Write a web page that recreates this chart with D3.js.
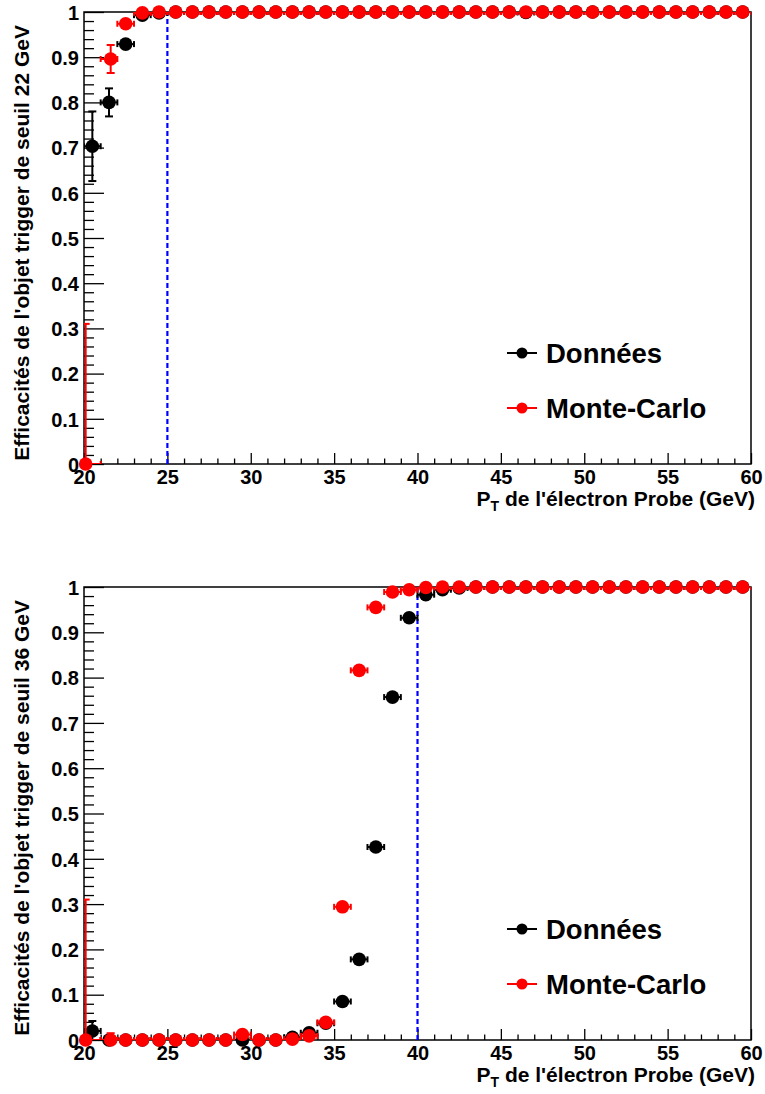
<!DOCTYPE html>
<html><head><meta charset="utf-8">
<script src="https://cdn.jsdelivr.net/npm/d3@7"></script>
<style>body{margin:0;background:#fff}svg{display:block}text{font-family:"Liberation Sans",Arial,sans-serif;font-weight:bold}</style>
</head><body>
<script>
// ---------- data ----------
const xTicks = [20, 25, 30, 35, 40, 45, 50, 55, 60];
const yTicks = [0, 0.1, 0.2, 0.3, 0.4, 0.5, 0.6, 0.7, 0.8, 0.9, 1];
const seriesNames = ["Données", "Monte-Carlo"];

// Données: bin centres (1 GeV bins)
const dataX = [20.5,21.5,22.5,23.5,24.5,25.5,26.5,27.5,28.5,29.5,30.5,31.5,32.5,33.5,34.5,35.5,36.5,37.5,38.5,39.5,
               40.5,41.5,42.5,43.5,44.5,45.5,46.5,47.5,48.5,49.5,50.5,51.5,52.5,53.5,54.5,55.5,56.5,57.5,58.5,59.5];
// Monte-Carlo points
const mcX   = [20.1,21.6,22.5,23.5,24.5,25.5,26.5,27.5,28.5,29.5,30.5,31.5,32.5,33.5,34.5,35.5,36.5,37.5,38.5,39.5,
               40.5,41.5,42.5,43.5,44.5,45.5,46.5,47.5,48.5,49.5,50.5,51.5,52.5,53.5,54.5,55.5,56.5,57.5,58.5,59.5];

// Panel 1: seuil 22 GeV
const data22    = [0.703,0.800,0.929,0.993,0.998,1,1,1,1,1,1,1,1,1,1,1,1,1,1,1,1,1,1,1,1,1,0.999,1,1,1,1,1,1,1,1,1,1,1,1,1];
const data22Err = [0.077,0.031,0.008,0.004,0.002,0,0,0,0,0,0,0,0,0,0,0,0,0,0,0,0,0,0,0,0,0,0,0,0,0,0,0,0,0,0,0,0,0,0,0];
const mc22      = [0,0.896,0.974,0.998,1,1,1,1,1,1,1,1,1,1,1,1,1,1,1,1,1,1,1,1,1,1,1,1,1,1,1,1,1,1,1,1,1,1,1,1];
const mc22Err   = [0.31,0.031,0.006,0.002,0,0,0,0,0,0,0,0,0,0,0,0,0,0,0,0,0,0,0,0,0,0,0,0,0,0,0,0,0,0,0,0,0,0,0,0];

// Panel 2: seuil 36 GeV
const data36    = [0.020,0,0,0,0,0,0,0,0,0,0,0,0.006,0.016,0.037,0.085,0.178,0.426,0.757,0.932,
                   0.983,0.994,0.998,1,1,1,1,1,1,1,1,1,1,1,1,1,1,1,1,1];
const data36Err = [0.022,0,0,0,0,0,0,0,0,0,0,0,0.003,0.005,0.004,0.005,0.006,0.007,0.006,0.004,
                   0.003,0.002,0.001,0,0,0,0,0,0,0,0,0,0,0,0,0,0,0,0,0];
const mc36      = [0,0,0,0,0,0,0,0,0,0.012,0,0,0.002,0.009,0.039,0.294,0.816,0.955,0.989,0.994,
                   0.999,1,1,1,1,1,1,1,1,1,1,1,1,1,1,1,1,1,1,1];
const mc36Err   = [0.31,0.015,0,0,0,0,0,0,0,0.006,0,0,0.002,0.004,0.004,0.005,0.004,0.003,0.002,0.001,
                   0.001,0,0,0,0,0,0,0,0,0,0,0,0,0,0,0,0,0,0,0];

const thresholds = [25, 40];
const yTitles = ["Efficacités de l'objet trigger de seuil 22 GeV", "Efficacités de l'objet trigger de seuil 36 GeV"];

// ---------- drawing ----------
const W = 765, H = 1094;
const svg = d3.select("body").append("svg").attr("width", W).attr("height", H);
const L = 84, R = 751;
const panels = [
  {top: 12, bottom: 464, d: data22, de: data22Err, m: mc22, me: mc22Err, thr: thresholds[0], title: yTitles[0]},
  {top: 587, bottom: 1040, d: data36, de: data36Err, m: mc36, me: mc36Err, thr: thresholds[1], title: yTitles[1]}
];
const colors = ["#000000", "#ff0000"];
const FONT = '"Liberation Sans",Arial,sans-serif';

panels.forEach((p, i) => {
  const x = d3.scaleLinear().domain([20, 60]).range([L, R]);
  const y = d3.scaleLinear().domain([0, 1]).range([p.bottom, p.top]);
  const g = svg.append("g");
  const clipId = "clip" + i;
  g.append("clipPath").attr("id", clipId).append("rect")
    .attr("x", L).attr("y", p.top).attr("width", R - L).attr("height", p.bottom - p.top);

  // minor ticks
  const minorX = d3.range(20, 61, 1).filter(v => v % 5 !== 0);
  const minorY = d3.range(0, 51, 1).filter(v => v % 5 !== 0).map(v => v / 50);
  const gxm = g.append("g").attr("transform", `translate(0,${p.bottom})`)
    .call(d3.axisBottom(x).tickValues(minorX).tickSize(-5.5).tickFormat(""));
  const gym = g.append("g").attr("transform", `translate(${L},0)`)
    .call(d3.axisLeft(y).tickValues(minorY).tickSize(-10).tickFormat(""));
  // major ticks
  const gx = g.append("g").attr("transform", `translate(0,${p.bottom})`)
    .call(d3.axisBottom(x).tickValues(xTicks).tickSize(-11).tickPadding(6).tickFormat(d3.format("~g")));
  const gy = g.append("g").attr("transform", `translate(${L},0)`)
    .call(d3.axisLeft(y).tickValues(yTicks).tickSize(-20).tickPadding(5).tickFormat(d3.format("~g")));
  [gxm, gym, gx, gy].forEach(a => {
    a.select(".domain").remove();
    a.selectAll("line").attr("stroke", "#000").attr("stroke-width", 1.3);
    a.selectAll("text").attr("font-size", 20).attr("fill", "#000")
      .style("font-family", FONT).style("font-weight", "bold");
  });
  gy.selectAll("text").attr("dy", "0.36em");

  // frame
  g.append("rect").attr("x", L).attr("y", p.top).attr("width", R - L).attr("height", p.bottom - p.top)
    .attr("fill", "none").attr("stroke", "#000").attr("stroke-width", 1.5);

  // threshold line
  g.append("line").attr("x1", x(p.thr)).attr("x2", x(p.thr)).attr("y1", y(0)).attr("y2", y(1))
    .attr("stroke", "#0000ff").attr("stroke-width", 2.2).attr("stroke-dasharray", "5,3");

  // series
  const series = [
    {xs: dataX, v: p.d, e: p.de, c: colors[0]},
    {xs: mcX, v: p.m, e: p.me, c: colors[1]}
  ];
  series.forEach(s => {
    const pts = s.xs.map((xv, k) => ({x: xv, v: s.v[k], e: s.e[k]}));
    const eg = g.append("g").attr("clip-path", `url(#${clipId})`)
      .attr("stroke", s.c).attr("stroke-width", 2);
    // horizontal bars (bin edges)
    eg.selectAll(".h").data(pts).join("line")
      .attr("x1", d => x(Math.floor(d.x))).attr("x2", d => x(Math.floor(d.x) + 1))
      .attr("y1", d => y(d.v)).attr("y2", d => y(d.v));
    eg.selectAll(".hc").data(pts.flatMap(d => [{x: Math.floor(d.x), v: d.v}, {x: Math.floor(d.x) + 1, v: d.v}])).join("line")
      .attr("x1", d => x(d.x)).attr("x2", d => x(d.x))
      .attr("y1", d => y(d.v) - 3).attr("y2", d => y(d.v) + 3);
    // vertical error bars
    const ve = pts.filter(d => d.e > 0);
    eg.selectAll(".v").data(ve).join("line")
      .attr("x1", d => x(d.x)).attr("x2", d => x(d.x))
      .attr("y1", d => y(d.v - d.e)).attr("y2", d => y(Math.min(1, d.v + d.e)));
    eg.selectAll(".vc").data(ve.flatMap(d => [d.v - d.e, Math.min(1, d.v + d.e)].map(t => ({x: d.x, t})))).join("line")
      .attr("x1", d => x(d.x) - 4).attr("x2", d => x(d.x) + 4)
      .attr("y1", d => y(d.t)).attr("y2", d => y(d.t));
    g.append("g").selectAll("circle").data(pts).join("circle")
      .attr("cx", d => x(d.x)).attr("cy", d => y(d.v)).attr("r", 6.8).attr("fill", s.c);
  });

  // legend
  const ly = [p.bottom - 111, p.bottom - 56];
  seriesNames.forEach((name, k) => {
    g.append("line").attr("x1", 507).attr("x2", 537).attr("y1", ly[k]).attr("y2", ly[k])
      .attr("stroke", colors[k]).attr("stroke-width", 2);
    g.append("circle").attr("cx", 522).attr("cy", ly[k]).attr("r", 5.5).attr("fill", colors[k]);
    g.append("text").attr("x", 546).attr("y", ly[k]).attr("dy", "0.36em")
      .attr("font-size", 27.5).text(name);
  });

  // axis titles
  const xt = g.append("text").attr("x", 755).attr("y", p.bottom + 42).attr("text-anchor", "end")
    .attr("font-size", 21);
  xt.append("tspan").text("P");
  xt.append("tspan").attr("font-size", 14).attr("dy", 5).text("T");
  xt.append("tspan").attr("dy", -5).text(" de l'électron Probe (GeV)");

  g.append("text").attr("transform", `translate(29,${p.top + 13}) rotate(-90)`)
    .attr("text-anchor", "end").attr("font-size", 21).text(p.title);
});
</script>
</body></html>
